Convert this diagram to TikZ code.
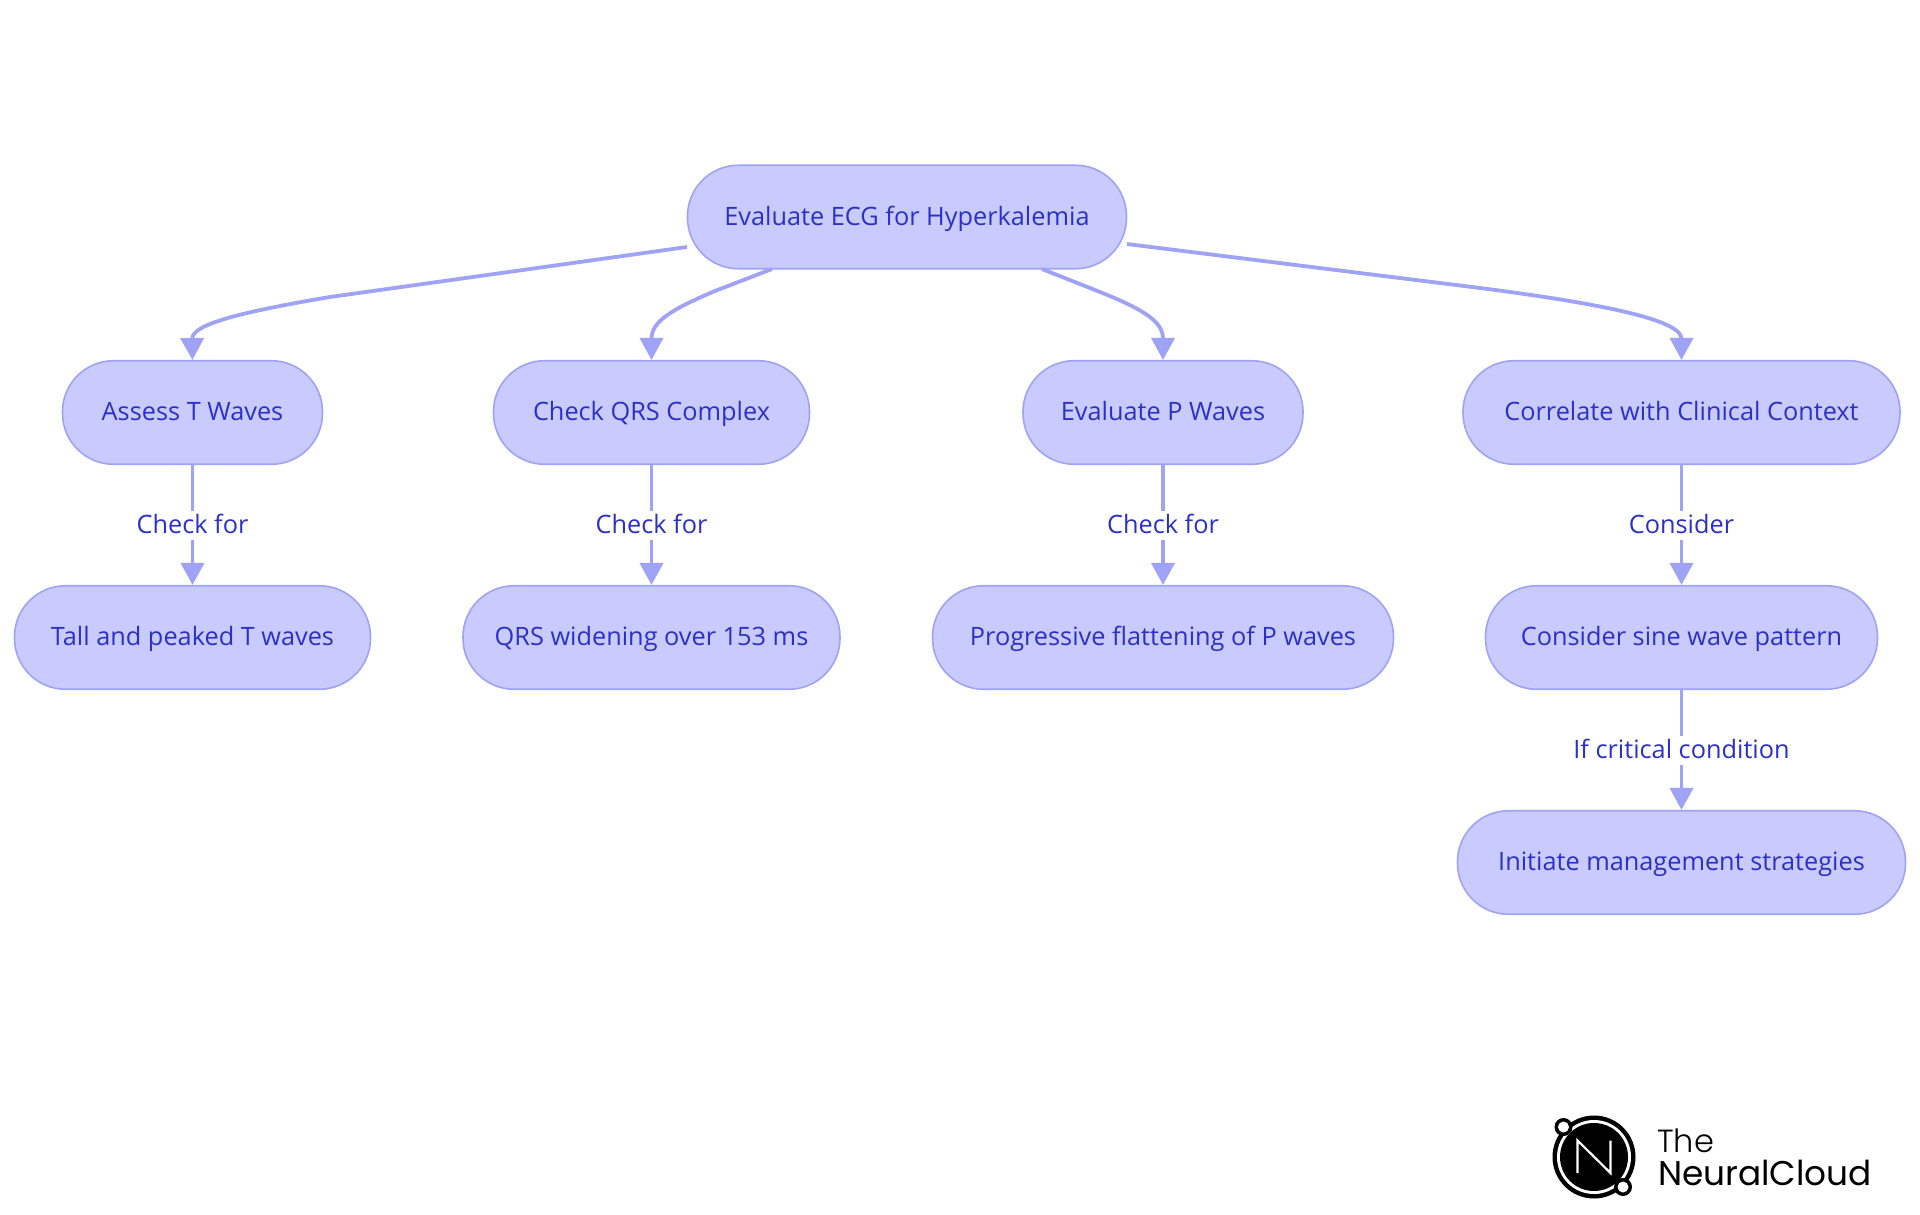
\documentclass[tikz,border=0pt]{standalone}
\usepackage{fontspec}
\setmainfont{Open Sans}
\newfontfamily\logofont{Poppins Light}
\newfontfamily\logofontb{Poppins}
\usetikzlibrary{arrows.meta}
\definecolor{pillfill}{HTML}{C9CAFD}
\definecolor{pilledge}{HTML}{9FA3F5}
\definecolor{pilltext}{HTML}{2B30C9}
\tikzset{
  pill/.style={draw=pilledge,fill=pillfill,line width=1.6pt,rounded corners=51pt,
    minimum height=103.5pt,inner sep=0pt,text=pilltext,font=\fontsize{25.3}{30}\selectfont,
    text height=21pt,text depth=5pt,align=center},
  conn/.style={draw=pilledge,line width=3.8pt,-{Triangle[width=23pt,length=22pt]}},
  edgelabel/.style={fill=white,text=pilltext,font=\fontsize{25.3}{30}\selectfont,inner xsep=0pt,
    inner ysep=1.5pt,text height=21pt,text depth=5pt}
}
\begin{document}
\begin{tikzpicture}[x=1pt,y=-1pt]
\useasboundingbox[fill=white] (0,0) rectangle (1920,1215);
\node[pill,minimum width=439pt] (root) at (907,217) {Evaluate ECG for Hyperkalemia};
\node[pill,minimum width=260pt] (t) at (192.5,412.5) {Assess T Waves};
\node[pill,minimum width=316pt] (q) at (651.5,412.5) {Check QRS Complex};
\node[pill,minimum width=280pt] (p) at (1163,412.5) {Evaluate P Waves};
\node[pill,minimum width=437pt] (c) at (1681.5,412.5) {Correlate with Clinical Context};
\node[pill,minimum width=356pt] (tt) at (192.5,637.5) {Tall and peaked T waves};
\node[pill,minimum width=377pt] (qq) at (651.5,637.5) {QRS widening over 153 ms};
\node[pill,minimum width=461pt] (pp) at (1163,637.5) {Progressive flattening of P waves};
\node[pill,minimum width=392pt] (cc) at (1681.5,637.5) {Consider sine wave pattern};
\node[pill,minimum width=448pt] (m) at (1681.5,862.5) {Initiate management strategies};
\coordinate (r1) at (687,247);
\coordinate (r2) at (772,269);
\coordinate (r3) at (1042,269);
\coordinate (r4) at (1127,244);
\draw[conn] (r1) -- (330,297) .. controls (235,313) and (192,325) .. (t.north);
\draw[conn] (r2) -- (715,291) .. controls (670,310) and (651.5,322) .. (q.north);
\draw[conn] (r3) -- (1100,292) .. controls (1145,310) and (1163,322) .. (p.north);
\draw[conn] (r4) -- (1480,288) .. controls (1620,306) and (1681.5,322) .. (c.north);
\draw[conn] (t) -- node[edgelabel] {Check for} (tt);
\draw[conn] (q) -- node[edgelabel] {Check for} (qq);
\draw[conn] (p) -- node[edgelabel] {Check for} (pp);
\draw[conn] (c) -- node[edgelabel] {Consider} (cc);
\draw[conn] (cc) -- node[edgelabel] {If critical condition} (m);
% logo
\fill[black] (1594,1157) circle (41.5);
\fill[white] (1594,1157) circle (37);
\fill[black] (1594,1157) circle (34);
\draw[white,line width=2.2pt,line join=miter] (1577.5,1173) -- (1577.5,1140.5) -- (1610.5,1173) -- (1610.5,1140.5);
\fill[black] (1563.5,1127) circle (9);
\fill[white] (1563.5,1127) circle (5.5);
\fill[black] (1623,1187) circle (9);
\fill[white] (1623,1187) circle (5.5);
\node[anchor=base west,inner sep=0pt,font=\logofont\fontsize{32}{36}\selectfont] (lt) at (1657,1152) {The};
\node[anchor=base west,inner sep=0pt,font=\logofontb\fontsize{34.3}{38}\selectfont] (ln) at (1658,1185) {NeuralCloud};
\end{tikzpicture}
\end{document}
